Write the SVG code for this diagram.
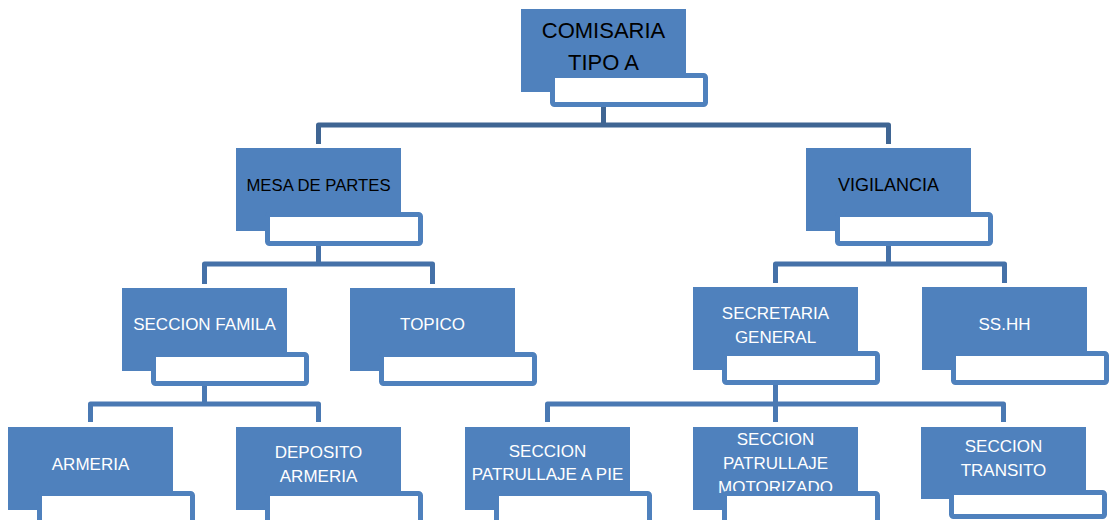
<svg xmlns="http://www.w3.org/2000/svg" width="1109" height="520" viewBox="0 0 1109 520">
<style>
.b{fill:#4F81BD}
.w{fill:#FFFFFF;stroke:#4F81BD;stroke-width:5}
.t{font-family:"Liberation Sans",Arial,sans-serif;font-size:17px;text-anchor:middle}
.k{fill:#000000}
.f{fill:#FFFFFF}
.c{fill:none;stroke-width:5;stroke-linejoin:round;stroke-linecap:butt}
.c1{stroke:#3F6593}
.c2{stroke:#4571A8}
.c3{stroke:#4A79B3}
</style>
<rect width="1109" height="520" fill="#FFFFFF"/>
<g id="connectors">
<path class="c c1" d="M603.5 107V125M318.5 144V125H888.5V144"/>
<path class="c c2" d="M318.5 246V264M204.5 284V264H432.5V284"/>
<path class="c c2" d="M888.5 246V264M775.5 283V264H1004.5V283"/>
<path class="c c3" d="M204.5 386V404M90.5 422V404H318.5V422"/>
<path class="c c3" d="M775.5 385V404M547.5 422V404H1003.5V422M775.5 404V422"/>
</g>
<g id="comisaria">
<rect class="b" x="521" y="9" width="165" height="83"/>
<text class="t k" x="603.5" y="38" style="font-size:22px">COMISARIA</text>
<text class="t k" x="603.5" y="70" style="font-size:22px">TIPO A</text>
<rect class="w" x="552.5" y="75.5" width="153" height="29" rx="2"/>
</g>
<g id="mesa">
<rect class="b" x="236" y="148" width="165" height="83"/>
<text class="t k" x="318.5" y="191" style="font-size:16.7px">MESA DE PARTES</text>
<rect class="w" x="267.5" y="214.5" width="153" height="29" rx="2"/>
</g>
<g id="vigilancia">
<rect class="b" x="806" y="148" width="165" height="83"/>
<text class="t k" x="888.5" y="191" style="font-size:18px">VIGILANCIA</text>
<rect class="w" x="837.5" y="214.5" width="153" height="29" rx="2"/>
</g>
<g id="seccion-familia">
<rect class="b" x="122" y="288" width="165" height="83"/>
<text class="t f" x="204.5" y="330">SECCION FAMILA</text>
<rect class="w" x="153.5" y="354.5" width="153" height="29" rx="2"/>
</g>
<g id="topico">
<rect class="b" x="350" y="288" width="165" height="83"/>
<text class="t f" x="432.5" y="330">TOPICO</text>
<rect class="w" x="381.5" y="354.5" width="153" height="29" rx="2"/>
</g>
<g id="secretaria">
<rect class="b" x="693" y="287" width="165" height="83"/>
<text class="t f" x="775.5" y="319">SECRETARIA</text>
<text class="t f" x="775.5" y="343">GENERAL</text>
<rect class="w" x="724.5" y="353.5" width="153" height="29" rx="2"/>
</g>
<g id="sshh">
<rect class="b" x="922" y="287" width="165" height="83"/>
<text class="t f" x="1004.5" y="330">SS.HH</text>
<rect class="w" x="953.5" y="353.5" width="153" height="29" rx="2"/>
</g>
<g id="armeria">
<rect class="b" x="8" y="427" width="165" height="83"/>
<text class="t f" x="90.5" y="470">ARMERIA</text>
<rect class="w" x="39.5" y="493.5" width="153" height="29" rx="2"/>
</g>
<g id="deposito">
<rect class="b" x="236" y="427" width="165" height="83"/>
<text class="t f" x="318.5" y="458">DEPOSITO</text>
<text class="t f" x="318.5" y="482">ARMERIA</text>
<rect class="w" x="267.5" y="493.5" width="153" height="29" rx="2"/>
</g>
<g id="patrullaje-pie">
<rect class="b" x="465" y="427" width="165" height="83"/>
<text class="t f" x="547.5" y="457">SECCION</text>
<text class="t f" x="547.5" y="480">PATRULLAJE A PIE</text>
<rect class="w" x="496.5" y="493.5" width="153" height="29" rx="2"/>
</g>
<g id="patrullaje-motorizado">
<rect class="b" x="693" y="427" width="165" height="83"/>
<text class="t f" x="775.5" y="445">SECCION</text>
<text class="t f" x="775.5" y="469">PATRULLAJE</text>
<text class="t f" x="775.5" y="493">MOTORIZADO</text>
<rect class="w" x="724.5" y="493.5" width="153" height="29" rx="2"/>
</g>
<g id="transito">
<rect class="b" x="921" y="427" width="165" height="72"/>
<text class="t f" x="1003.5" y="452">SECCION</text>
<text class="t f" x="1003.5" y="476">TRANSITO</text>
<rect class="w" x="951.5" y="492.5" width="153" height="24" rx="2"/>
</g>
</svg>
